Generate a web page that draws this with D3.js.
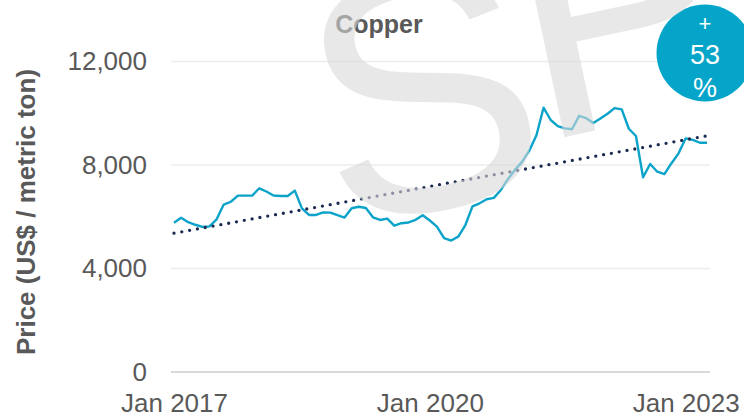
<!DOCTYPE html>
<html>
<head>
<meta charset="utf-8">
<script src="https://cdn.jsdelivr.net/npm/d3@7"></script>
<style>
  body { margin: 0; background: #fff; }
  text { font-family: "Liberation Sans", Arial, sans-serif; }
</style>
</head>
<body>
<script>
var w = 744;
var h = 418;

// monthly copper price, Jan 2017 - Apr 2023 (US$ / metric ton)
var prices = [
  5770, 5965, 5790, 5690, 5605, 5630, 5900, 6470, 6580, 6815, 6815, 6815,
  7100, 6975, 6820, 6800, 6800, 7010, 6325, 6070, 6070, 6170, 6160, 6060,
  5970, 6330, 6385, 6340, 5980, 5875, 5930, 5655, 5750, 5780, 5880, 6060,
  5855, 5620, 5170, 5080, 5230, 5680, 6400, 6520, 6675, 6730, 7035, 7460,
  7820, 8130, 8560, 9150, 10215, 9740, 9500, 9415, 9380, 9900, 9810, 9620,
  9800, 9980, 10200, 10150, 9400, 9120, 7525, 8040, 7740, 7650, 8070, 8450,
  9030, 8970, 8860, 8860
];
var yTicks = [0, 4000, 8000, 12000];
var xTickIndex = [0, 36, 72];
var xTickLabels = ["Jan 2017", "Jan 2020", "Jan 2023"];
var change = ["+", "53", "%"];

var svg = d3.select("body").append("svg")
  .attr("width", w)
  .attr("height", h);

var x = d3.scaleLinear().domain([-0.42, prices.length - 1 + 0.42]).range([171, 710]);
var y = d3.scaleLinear().domain([0, 12000]).range([372, 61.5]);

// grid
svg.append("g").selectAll("line").data(yTicks).enter().append("line")
  .attr("x1", 171).attr("x2", 710)
  .attr("y1", function(d){ return y(d); })
  .attr("y2", function(d){ return y(d); })
  .attr("stroke", function(d){ return d === 0 ? "#d9d9d9" : "#ececec"; })
  .attr("stroke-width", function(d){ return d === 0 ? 2 : 1.5; });

// y axis labels
var yAxis = d3.axisLeft(y).tickValues(yTicks).tickSize(0).tickPadding(0)
  .tickFormat(d3.format(","));
svg.append("g").attr("transform", "translate(147,0)").call(yAxis)
  .call(function(g){ g.select(".domain").remove(); })
  .selectAll("text")
  .attr("font-family", "Liberation Sans, Arial, sans-serif")
  .attr("font-size", 26)
  .attr("fill", "#595959");

// x axis labels
var xAxis = d3.axisBottom(x).tickValues(xTickIndex).tickSize(0).tickPadding(0)
  .tickFormat(function(d, i){ return xTickLabels[i]; });
svg.append("g").attr("transform", "translate(0,394)").call(xAxis)
  .call(function(g){ g.select(".domain").remove(); })
  .selectAll("text")
  .attr("font-family", "Liberation Sans, Arial, sans-serif")
  .attr("font-size", 26)
  .attr("fill", "#595959");

// axis title
svg.append("text")
  .attr("transform", "translate(35,212) rotate(-90)")
  .attr("text-anchor", "middle")
  .attr("font-size", 26)
  .attr("font-weight", "bold")
  .attr("fill", "#595959")
  .text("Price (US$ / metric ton)");

// chart title
svg.append("text")
  .attr("x", 379).attr("y", 33)
  .attr("text-anchor", "middle")
  .attr("font-size", 25)
  .attr("font-weight", "bold")
  .attr("fill", "#595959")
  .text("Copper");

// linear trend (least squares)
var n = prices.length;
var mx = d3.mean(prices, function(d, i){ return i; });
var my = d3.mean(prices);
var sxy = d3.sum(prices, function(d, i){ return (i - mx) * (d - my); });
var sxx = d3.sum(prices, function(d, i){ return (i - mx) * (i - mx); });
var slope = sxy / sxx;
var icpt = my - slope * mx;
var trend = [0, n - 1].map(function(i){ return [i, icpt + slope * i]; });

var line = d3.line()
  .x(function(d, i){ return x(i); })
  .y(function(d){ return y(d); });

svg.append("path")
  .datum(prices)
  .attr("d", line)
  .attr("fill", "none")
  .attr("stroke", "#0ba3c9")
  .attr("stroke-width", 2.4)
  .attr("stroke-linejoin", "round");

svg.append("path")
  .datum(trend)
  .attr("d", d3.line().x(function(d){ return x(d[0]); }).y(function(d){ return y(d[1]); }))
  .attr("fill", "none")
  .attr("stroke", "#1b2a50")
  .attr("stroke-width", 3.3)
  .attr("stroke-linecap", "round")
  .attr("stroke-dasharray", "0 7.94");

// change badge
var badge = svg.append("g").attr("transform", "translate(705,53)");
badge.append("circle").attr("r", 48.5).attr("fill", "#05a5c9");
badge.selectAll("text").data(change).enter().append("text")
  .attr("x", 0)
  .attr("y", function(d, i){ return [-30, 2, 35][i]; })
  .attr("dy", "0.35em")
  .attr("text-anchor", "middle")
  .attr("font-size", function(d, i){ return i === 0 ? 22 : 27; })
  .attr("fill", "#fff")
  .text(function(d){ return d; });

// watermark on top
var wm = svg.append("g").attr("fill", "rgb(216,216,216)").attr("fill-opacity", 0.6)
  .attr("pointer-events", "none");
wm.append("text").attr("transform", "translate(336,230) rotate(-12)")
  .attr("font-size", 340).text("S");
wm.append("text").attr("transform", "translate(537,143) rotate(-12)")
  .attr("font-size", 340).text("P");
</script>
</body>
</html>
